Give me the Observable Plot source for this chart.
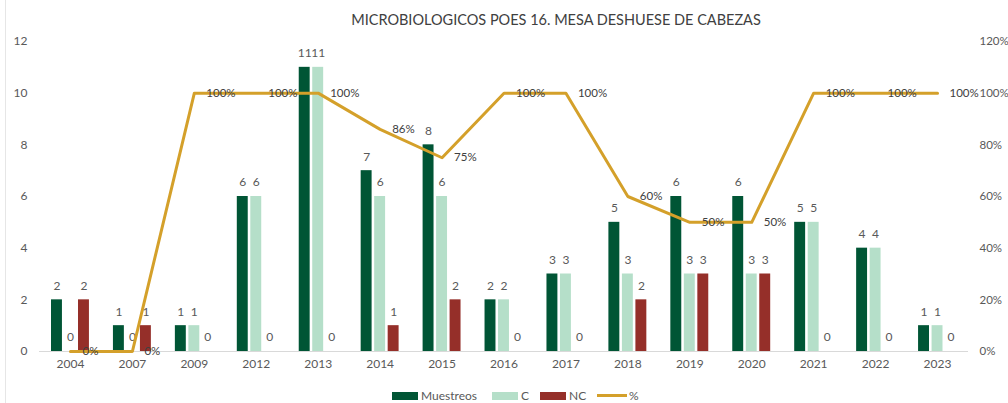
<!DOCTYPE html>
<html>
<head>
<meta charset="utf-8">
<script src="https://cdn.jsdelivr.net/npm/d3@7"></script>
<script src="https://cdn.jsdelivr.net/npm/@observablehq/plot@0.6"></script>
<style>
  html, body { margin: 0; padding: 0; background: #fff; }
  #wrap { position: relative; width: 1008px; height: 403px; overflow: hidden; font-family: Lato, "Open Sans", sans-serif; }
  #title { height: 32px; box-sizing: border-box; padding-top: 12px; padding-left: 104px; text-align: center; font-size: 14.5px; line-height: 16px; color: #404040; white-space: nowrap; }
  #legend { position: relative; height: 15px; font-size: 12px; color: #595959; }
  .item { position: absolute; top: 0; height: 15px; display: flex; align-items: center; }
  .sw { display: inline-block; width: 26px; height: 8px; margin-right: 3px; }
  .ln { display: inline-block; width: 30px; height: 3px; margin-right: 2px; }
  #edge { position: absolute; left: 5px; top: 0; width: 1px; height: 403px; background: #e6e6e6; }
</style>
</head>
<body>
<div id="wrap">
  <div id="edge"></div>
  <div id="title">MICROBIOLOGICOS POES 16. MESA DESHUESE DE CABEZAS</div>
  <div id="chart"></div>
  <div id="legend"></div>
</div>
<script>
const years = ["2004","2007","2009","2012","2013","2014","2015","2016","2017","2018","2019","2020","2021","2022","2023"];
const muestreos = [2,1,1,6,11,7,8,2,3,5,6,6,5,4,1];
const conformes = [0,0,1,6,11,6,6,2,3,3,3,3,5,4,1];
const noConformes = [2,1,0,0,0,1,2,0,0,2,3,3,0,0,0];
const porcentaje = [0,0,100,100,100,86,75,100,100,60,50,50,100,100,100];
const leftTicks = [0,2,4,6,8,10,12];

const seriesNames = ["Muestreos","C","NC","%"];
const colors = {Muestreos: "#005535", C: "#B5DFC9", NC: "#952F29", "%": "#D4A02A"};

const rows = years.map((y, i) => ({year: y, m: muestreos[i], c: conformes[i], nc: noConformes[i], p: porcentaje[i]}));

const barInset = 25.5;
const off = 13.5;

const chart = Plot.plot({
  width: 1008,
  height: 356,
  marginTop: 9,
  marginBottom: 37,
  marginLeft: 39,
  marginRight: 40,
  style: {fontFamily: "Lato, 'Open Sans', sans-serif", fontSize: "12px", color: "#595959", background: "transparent", overflow: "visible"},
  x: {domain: years, padding: 0, round: false, axis: null},
  y: {domain: [0, 12], axis: null},
  marks: [
    Plot.axisX({tickSize: 0, tickPadding: 8, label: null, fill: "#595959"}),
    Plot.axisY(leftTicks, {anchor: "left", tickSize: 0, tickPadding: 12, label: null, fill: "#595959"}),
    Plot.axisY(leftTicks, {anchor: "right", tickSize: 0, tickPadding: 11, label: null, textAnchor: "start", tickFormat: d => `${d * 10}%`, fill: "#595959", fontSize: 11.5}),
    Plot.ruleY([0], {stroke: "#d9d9d9"}),
    Plot.barY(rows, {x: "year", y: "m", fill: colors.Muestreos, insetLeft: barInset, insetRight: barInset, dx: -off}),
    Plot.barY(rows, {x: "year", y: "c", fill: colors.C, insetLeft: barInset, insetRight: barInset}),
    Plot.barY(rows, {x: "year", y: "nc", fill: colors.NC, insetLeft: barInset, insetRight: barInset, dx: off}),
    Plot.text(rows, {x: "year", y: "m", text: d => String(d.m), dx: -off, dy: -14, fill: "#595959"}),
    Plot.text(rows, {x: "year", y: "c", text: d => String(d.c), dy: -14, fill: "#595959"}),
    Plot.text(rows, {x: "year", y: "nc", text: d => String(d.nc), dx: off, dy: -14, fill: "#595959"}),
    Plot.line(rows, {x: "year", y: d => d.p / 10, stroke: colors["%"], strokeWidth: 3}),
    Plot.text(rows, {x: "year", y: d => d.p / 10, text: d => `${d.p}%`, dx: 12, textAnchor: "start", fill: "#404040", fontSize: 11.5})
  ]
});
document.getElementById("chart").appendChild(chart);

// Legend
const legend = document.getElementById("legend");
const lefts = {Muestreos: 392, C: 492, NC: 540, "%": 597};
for (const name of seriesNames) {
  const item = document.createElement("div");
  item.className = "item";
  item.style.left = lefts[name] + "px";
  const sw = document.createElement("span");
  sw.className = name === "%" ? "ln" : "sw";
  sw.style.background = colors[name];
  const t = document.createElement("span");
  t.textContent = name;
  item.appendChild(sw);
  item.appendChild(t);
  legend.appendChild(item);
}
</script>
</body>
</html>
